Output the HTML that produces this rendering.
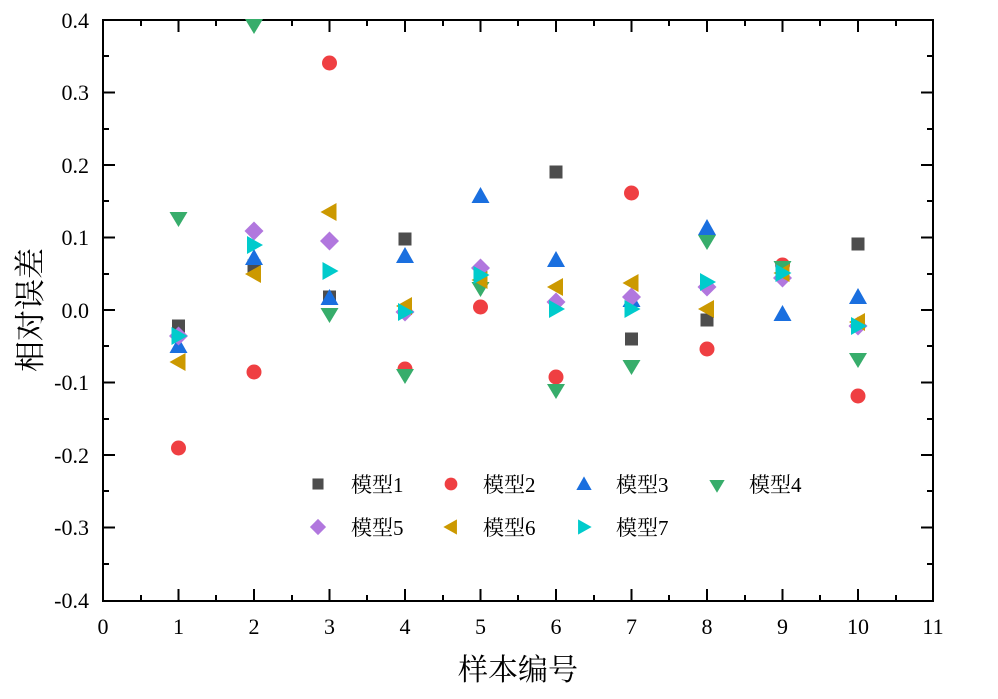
<!DOCTYPE html>
<html><head><meta charset="utf-8"><style>
html,body{margin:0;padding:0;background:#fff;}
svg{display:block;}
text{font-family:"Liberation Serif","Noto Serif CJK SC",serif;fill:#000;}
.cj{font-family:"Liberation Serif","Noto Serif CJK SC","Noto Sans CJK SC",serif;}
</style></head><body>
<svg width="998" height="699" viewBox="0 0 998 699" xmlns="http://www.w3.org/2000/svg">
<defs>
<rect id="m1" x="-6.5" y="-6.5" width="13" height="13" fill="#4d4d4d"/>
<circle id="m2" r="7.5" fill="#ef3f42"/>
<polygon id="m3" points="0,-9 9,7 -9,7" fill="#1a6fdf"/>
<polygon id="m4" points="0,8 -9,-7 9,-7" fill="#37ad6b"/>
<polygon id="m5" points="0,-9.5 9.5,0 0,9.5 -9.5,0" fill="#b177de"/>
<polygon id="m6" points="-9,0 7,-9 7,9" fill="#cc9900"/>
<polygon id="m7" points="9,0 -7,-9 -7,9" fill="#00cbcc"/>
</defs>
<rect x="103" y="20" width="830" height="581" fill="none" stroke="#000" stroke-width="2"/>
<g stroke="#000" stroke-width="2">
<path d="M178.5,601v-12M254,601v-12M329.5,601v-12M405,601v-12M480.5,601v-12M556,601v-12M631.5,601v-12M707,601v-12M782.5,601v-12M858,601v-12
M178.5,20v12M254,20v12M329.5,20v12M405,20v12M480.5,20v12M556,20v12M631.5,20v12M707,20v12M782.5,20v12M858,20v12"/>
<path d="M141,601v-6M216,601v-6M292,601v-6M367,601v-6M443,601v-6M518,601v-6M594,601v-6M669,601v-6M745,601v-6M820,601v-6M896,601v-6
M141,20v6M216,20v6M292,20v6M367,20v6M443,20v6M518,20v6M594,20v6M669,20v6M745,20v6M820,20v6M896,20v6"/>
<path d="M103,92.5h12M103,165h12M103,237.5h12M103,310h12M103,382.5h12M103,455h12M103,527.5h12
M933,92.5h-12M933,165h-12M933,237.5h-12M933,310h-12M933,382.5h-12M933,455h-12M933,527.5h-12"/>
<path d="M103,56h6M103,129h6M103,201h6M103,274h6M103,346h6M103,419h6M103,491h6M103,564h6
M933,56h-6M933,129h-6M933,201h-6M933,274h-6M933,346h-6M933,419h-6M933,491h-6M933,564h-6"/>
</g>
<g font-size="22" text-anchor="end">
<text x="89" y="28">0.4</text><text x="89" y="100">0.3</text><text x="89" y="173">0.2</text><text x="89" y="245">0.1</text>
<text x="89" y="318">0.0</text><text x="89" y="390">-0.1</text><text x="89" y="463">-0.2</text><text x="89" y="535">-0.3</text><text x="89" y="608">-0.4</text>
</g>
<g font-size="22" text-anchor="middle">
<text x="103" y="634">0</text><text x="178.5" y="634">1</text><text x="254" y="634">2</text><text x="329.5" y="634">3</text><text x="405" y="634">4</text>
<text x="480.5" y="634">5</text><text x="556" y="634">6</text><text x="631.5" y="634">7</text><text x="707" y="634">8</text><text x="782.5" y="634">9</text>
<text x="858" y="634">10</text><text x="933" y="634">11</text>
</g>
<text class="cj" x="518" y="680" font-size="30" text-anchor="middle" fill="#2a1a1a">样本编号</text>
<text class="cj" x="0" y="0" font-size="31" text-anchor="middle" transform="translate(41,310) rotate(-90)" fill="#2a1a1a">相对误差</text>
<g>
<use href="#m1" x="178.5" y="326"/><use href="#m1" x="254" y="266"/><use href="#m1" x="329.5" y="297"/><use href="#m1" x="405" y="239"/><use href="#m1" x="480.5" y="275"/>
<use href="#m1" x="556" y="172"/><use href="#m1" x="631.5" y="339"/><use href="#m1" x="707" y="320"/><use href="#m1" x="782.5" y="268"/><use href="#m1" x="858" y="244"/>
</g>
<g>
<use href="#m2" x="178.5" y="448"/><use href="#m2" x="254" y="372"/><use href="#m2" x="329.5" y="63"/><use href="#m2" x="405" y="369"/><use href="#m2" x="480.5" y="307"/>
<use href="#m2" x="556" y="377"/><use href="#m2" x="631.5" y="193"/><use href="#m2" x="707" y="349"/><use href="#m2" x="782.5" y="265"/><use href="#m2" x="858" y="396"/>
</g>
<g>
<use href="#m3" x="178.5" y="346"/><use href="#m3" x="254" y="258"/><use href="#m3" x="329.5" y="298"/><use href="#m3" x="405" y="256"/><use href="#m3" x="480.5" y="196"/>
<use href="#m3" x="556" y="260"/><use href="#m3" x="631.5" y="300"/><use href="#m3" x="707" y="228"/><use href="#m3" x="782.5" y="314"/><use href="#m3" x="858" y="297"/>
</g>
<g>
<use href="#m4" x="178.5" y="219"/><use href="#m4" x="254" y="26"/><use href="#m4" x="329.5" y="315"/><use href="#m4" x="405" y="376"/><use href="#m4" x="480.5" y="289"/>
<use href="#m4" x="556" y="391"/><use href="#m4" x="631.5" y="367"/><use href="#m4" x="707" y="242"/><use href="#m4" x="782.5" y="268"/><use href="#m4" x="858" y="360"/>
</g>
<g>
<use href="#m5" x="178.5" y="336"/><use href="#m5" x="254" y="231"/><use href="#m5" x="329.5" y="241"/><use href="#m5" x="405" y="312"/><use href="#m5" x="480.5" y="268"/>
<use href="#m5" x="556" y="302"/><use href="#m5" x="631.5" y="297"/><use href="#m5" x="707" y="287"/><use href="#m5" x="782.5" y="278"/><use href="#m5" x="858" y="326"/>
</g>
<g>
<use href="#m6" x="178.5" y="362"/><use href="#m6" x="254" y="274"/><use href="#m6" x="329.5" y="212"/><use href="#m6" x="405" y="306"/><use href="#m6" x="480.5" y="280"/>
<use href="#m6" x="556" y="287"/><use href="#m6" x="631.5" y="283"/><use href="#m6" x="707" y="309"/><use href="#m6" x="782.5" y="273"/><use href="#m6" x="858" y="322"/>
</g>
<g>
<use href="#m7" x="178.5" y="336"/><use href="#m7" x="254" y="245"/><use href="#m7" x="329.5" y="271"/><use href="#m7" x="405" y="312"/><use href="#m7" x="480.5" y="275"/>
<use href="#m7" x="556" y="309"/><use href="#m7" x="631.5" y="309"/><use href="#m7" x="707" y="282"/><use href="#m7" x="782.5" y="273"/><use href="#m7" x="858" y="326"/>
</g>
<g>
<use href="#m1" transform="translate(318,484) scale(0.85)"/>
<use href="#m2" transform="translate(451,484) scale(0.85)"/>
<use href="#m3" transform="translate(584,484) scale(0.85)"/>
<use href="#m4" transform="translate(717,486) scale(0.85)"/>
<use href="#m5" transform="translate(318,527) scale(0.85)"/>
<use href="#m6" transform="translate(451,527) scale(0.85)"/>
<use href="#m7" transform="translate(584,527) scale(0.85)"/>
</g>
<g class="cj" font-size="21">
<text class="cj" x="351" y="492">模型1</text><text class="cj" x="483" y="492">模型2</text><text class="cj" x="616" y="492">模型3</text><text class="cj" x="749" y="492">模型4</text>
<text class="cj" x="351" y="535">模型5</text><text class="cj" x="483" y="535">模型6</text><text class="cj" x="616" y="535">模型7</text>
</g>
</svg>
</body></html>
